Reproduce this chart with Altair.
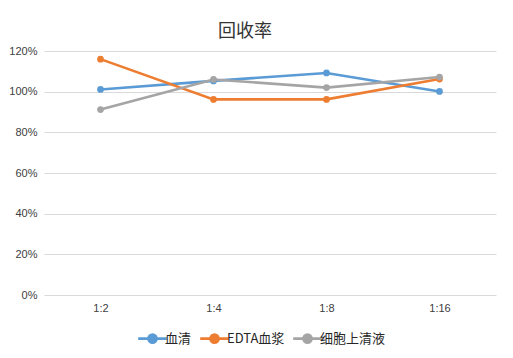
import altair as alt
import pandas as pd

categories = ["1:2", "1:4", "1:8", "1:16"]
series_names = ["血清", "EDTA血浆", "细胞上清液"]
serum = [1.011, 1.053, 1.092, 1.001]
edta = [1.160, 0.962, 0.962, 1.062]
supernatant = [0.912, 1.060, 1.020, 1.072]
colors = ["#5B9BD5", "#ED7D31", "#A5A5A5"]

rows = []
for name, vals in zip(series_names, [serum, edta, supernatant]):
    for c, v in zip(categories, vals):
        rows.append({"cat": c, "series": name, "value": v})
df = pd.DataFrame(rows)

font = "Noto Sans CJK SC"

chart = alt.Chart(df).mark_line(
    strokeWidth=2.6,
    point=alt.OverlayMarkDef(filled=True, size=45),
).encode(
    x=alt.X("cat:O", sort=categories, title=None,
            scale=alt.Scale(type="point", padding=0.5),
            axis=alt.Axis(labelAngle=0, domain=False, ticks=False, grid=False, labelPadding=7,
                          labelFont="Liberation Sans", labelFontSize=11, labelColor="#404040")),
    y=alt.Y("value:Q", title=None,
            scale=alt.Scale(domain=[0, 1.2], nice=False),
            axis=alt.Axis(format=".0%", values=[0, 0.2, 0.4, 0.6, 0.8, 1.0, 1.2],
                          domain=False, ticks=False, labelPadding=7,
                          gridColor="#D9D9D9", gridWidth=1,
                          labelFont="Liberation Sans", labelFontSize=11, labelColor="#404040")),
    color=alt.Color("series:N", sort=series_names,
                    scale=alt.Scale(domain=series_names, range=colors),
                    legend=alt.Legend(title=None, orient="none", direction="horizontal",
                                      legendX=98, legendY=277,
                                      symbolType="M-1.6,0H1.6M-0.45,0A0.45,0.45 0 1 1 0.45,0A0.45,0.45 0 1 1 -0.45,0Z",
                                      symbolSize=320, symbolStrokeWidth=2.6,
                                      labelFont=font, labelFontSize=13, labelColor="#262626",
                                      columnPadding=2, labelOffset=2)),
).properties(
    width=452,
    height=244,
    background="white",
    padding={"left": 36, "top": 43, "right": 9, "bottom": 55},
    autosize=alt.AutoSizeParams(type="none"),
    title=alt.TitleParams("回收率", font=font, fontSize=18, fontWeight="normal",
                          color="#333333", anchor="middle", dx=-25, offset=4),
).configure_view(stroke=None)

chart.save("out.html", embed_options={"renderer": "svg", "actions": False})
